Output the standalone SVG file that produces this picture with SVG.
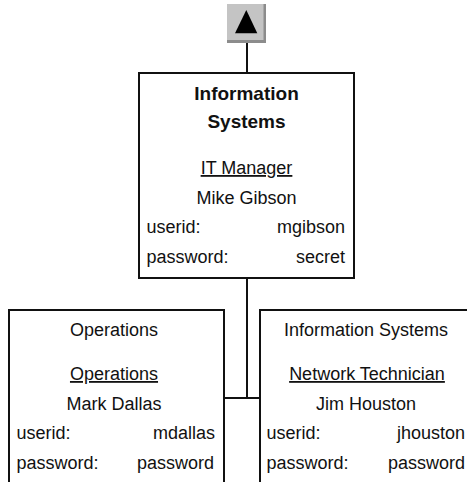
<svg xmlns="http://www.w3.org/2000/svg" width="467" height="482" viewBox="0 0 467 482">
<style>
.box{fill:#fff;stroke:#111;stroke-width:2}
.ln{stroke:#111;stroke-width:2;fill:none}
text{font-family:"Liberation Sans",Arial,sans-serif;font-size:18px;fill:#111}
.c{text-anchor:middle}
.r{text-anchor:end}
.b{font-weight:bold;font-size:19px}
.u{text-decoration:underline}
</style>
<rect width="467" height="482" fill="#fff"/>
<g id="connectors">
<line class="ln" x1="247" y1="42" x2="247" y2="73"/>
<line class="ln" x1="247" y1="278" x2="247" y2="398"/>
<line class="ln" x1="225" y1="398" x2="261" y2="398"/>
</g>
<g id="up-button">
<rect x="227" y="4" width="39" height="39" fill="#8c8c8c"/>
<rect x="227" y="4" width="36.5" height="36" fill="#c4c4c4"/>
<polygon points="246.3,10 257.3,33.3 235,33.3" fill="#000"/>
</g>
<g id="node-it-manager">
<rect class="box" x="139" y="73" width="215" height="205"/>
<text class="c b" x="246.5" y="100">Information</text>
<text class="c b" x="246.5" y="128">Systems</text>
<text class="c u" x="246.5" y="174">IT Manager</text>
<text class="c" x="246.5" y="203.5">Mike Gibson</text>
<text x="146.5" y="233">userid:</text>
<text class="r" x="345" y="233">mgibson</text>
<text x="146.5" y="262.5">password:</text>
<text class="r" x="345" y="262.5">secret</text>
</g>
<g id="node-operations">
<rect class="box" x="9" y="310" width="215" height="190"/>
<text class="c" x="114" y="336">Operations</text>
<text class="c u" x="114" y="380">Operations</text>
<text class="c" x="114" y="409.5">Mark Dallas</text>
<text x="16.5" y="439">userid:</text>
<text class="r" x="215" y="439">mdallas</text>
<text x="16.5" y="468.5">password:</text>
<text class="r" x="214" y="468.5">password</text>
</g>
<g id="node-network-technician">
<rect class="box" x="260" y="310" width="215" height="190"/>
<text class="c" x="366" y="336">Information Systems</text>
<text class="c u" x="367" y="380">Network Technician</text>
<text class="c" x="366" y="409.5">Jim Houston</text>
<text x="266.5" y="439">userid:</text>
<text class="r" x="465" y="439">jhouston</text>
<text x="266.5" y="468.5">password:</text>
<text class="r" x="465" y="468.5">password</text>
</g>
</svg>
